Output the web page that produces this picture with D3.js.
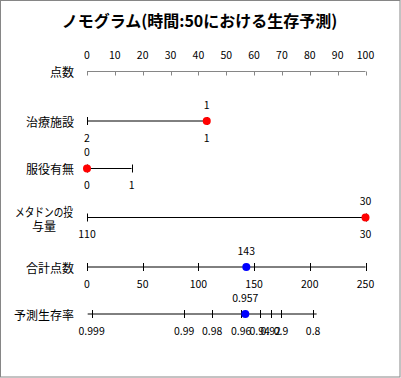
<!DOCTYPE html>
<html>
<head>
<meta charset="utf-8">
<script src="https://cdn.jsdelivr.net/npm/d3@7"></script>
<style>
  body { margin: 0; background: #fff; }
  text { font-family: "Noto Sans CJK JP", "Noto Sans", sans-serif; fill: #000; }
  .num { font-size: 10.5px; }
  .name { font-size: 12px; }
</style>
</head>
<body>
<div class="chart"></div>
<script>
var title = "ノモグラム(時間:50における生存予測)";

// points header
var pointTicks = [0, 10, 20, 30, 40, 50, 60, 70, 80, 90, 100];

// predictor rows: values and the points each value gets
var clinicValues = [2, 1];
var clinicPoints = [0, 43];
var clinicSelected = 1;

var prisonValues = [0, 1];
var prisonPoints = [0, 16];
var prisonSelected = 0;

var doseValues = [110, 30];
var dosePoints = [0, 100];
var doseSelected = 1;

// total points
var totalTicks = [0, 50, 100, 150, 200, 250];
var totalScore = 143;

// predicted survival, ticks placed on the total points scale
var survivalTicks = ["0.999", "0.99", "0.98", "0.96", "0.94", "0.92", "0.9", "0.8"];
var survivalTickPoints = [4.2, 87.2, 112.3, 138.4, 155, 164.9, 174.1, 203];
var survivalValue = "0.957";

var width = 401, height = 378;
var left = 87, right = 365.5;

var x = d3.scaleLinear().domain([0, 100]).range([left, right]);
var xTotal = d3.scaleLinear().domain([0, 250]).range([left, right]);

var svg = d3.select(".chart")
    .append("svg")
        .attr("width", width)
        .attr("height", height);

// frame
svg.append("rect")
    .attr("x", 0.5).attr("y", 0.5)
    .attr("width", width - 1.5).attr("height", height - 1.5)
    .attr("fill", "#fff")
    .attr("stroke", "#868686");

svg.append("text")
    .attr("x", width / 2 - 1)
    .attr("y", 20)
    .attr("dominant-baseline", "central")
    .style("text-anchor", "middle")
    .style("font-size", "16px")
    .style("font-weight", "bold")
    .text(title);

function rowName(name, y) {
    svg.append("text")
        .attr("class", "name")
        .attr("x", 74)
        .attr("y", y)
        .attr("dominant-baseline", "central")
        .style("text-anchor", "end")
        .text(name);
}

// points header row
var yPts = 71.5;
rowName("点数", yPts);
svg.append("line")
    .attr("x1", x(0)).attr("x2", x(100))
    .attr("y1", yPts).attr("y2", yPts)
    .attr("stroke", "#868686");
svg.selectAll(".ptTick")
    .data(pointTicks)
    .enter().append("line")
        .attr("x1", function(d) { return Math.round(x(d)) + 0.5; })
        .attr("x2", function(d) { return Math.round(x(d)) + 0.5; })
        .attr("y1", yPts).attr("y2", yPts + 4)
        .attr("stroke", "#868686");
svg.selectAll(".ptLabel")
    .data(pointTicks)
    .enter().append("text")
        .attr("class", "num")
        .attr("x", function(d) { return x(d); })
        .attr("y", 54.5)
        .attr("dominant-baseline", "central")
        .style("text-anchor", "middle")
        .text(function(d) { return d; });

// generic scale row: positions already in pixels
function scaleRow(y, positions, labels, lineFrom, lineTo, pointX, pointLabel, color) {
    svg.append("line")
        .attr("x1", lineFrom).attr("x2", lineTo)
        .attr("y1", y).attr("y2", y)
        .attr("stroke", "#000");
    svg.append("g").selectAll("line")
        .data(positions)
        .enter().append("line")
            .attr("x1", function(d) { return Math.round(d) + 0.5; })
            .attr("x2", function(d) { return Math.round(d) + 0.5; })
            .attr("y1", y - 4).attr("y2", y + 4)
            .attr("stroke", "#000");
    svg.append("g").selectAll("text")
        .data(labels)
        .enter().append("text")
            .attr("class", "num")
            .attr("x", function(d, i) { return positions[i]; })
            .attr("y", y + 16)
            .attr("dominant-baseline", "central")
            .style("text-anchor", "middle")
            .text(function(d) { return d; });
    svg.append("circle")
        .attr("cx", pointX).attr("cy", y)
        .attr("r", 4)
        .attr("fill", color);
    svg.append("text")
        .attr("class", "num")
        .attr("x", pointX)
        .attr("y", y - 17)
        .attr("dominant-baseline", "central")
        .style("text-anchor", "middle")
        .text(pointLabel);
}

function predictorRow(y, values, points, sel) {
    var pos = points.map(function(p) { return x(p); });
    scaleRow(y, pos, values, d3.min(pos), d3.max(pos), pos[sel], values[sel], "#ff0000");
}

rowName("治療施設", 121);
predictorRow(121, clinicValues, clinicPoints, clinicSelected);

rowName("服役有無", 168.5);
predictorRow(168.5, prisonValues, prisonPoints, prisonSelected);

// wrapped name, two centred lines
svg.append("text")
    .attr("class", "name")
    .attr("x", 44).attr("y", 211)
    .attr("dominant-baseline", "central")
    .attr("textLength", 58)
    .attr("lengthAdjust", "spacingAndGlyphs")
    .style("text-anchor", "middle")
    .text("メタドンの投");
svg.append("text")
    .attr("class", "name")
    .attr("x", 44).attr("y", 225.5)
    .attr("dominant-baseline", "central")
    .style("text-anchor", "middle")
    .text("与量");
predictorRow(217.5, doseValues, dosePoints, doseSelected);

// total points
rowName("合計点数", 267);
scaleRow(267, totalTicks.map(function(d) { return xTotal(d); }), totalTicks,
    xTotal(0), xTotal(250), xTotal(totalScore), totalScore, "#0000ff");

// predicted survival
var survPos = survivalTickPoints.map(function(d) { return xTotal(d); });
rowName("予測生存率", 314);
scaleRow(314, survPos, survivalTicks,
    d3.min(survPos) - 4, d3.max(survPos) + 3.5, xTotal(totalScore) - 1, survivalValue, "#0000ff");
</script>
</body>
</html>
